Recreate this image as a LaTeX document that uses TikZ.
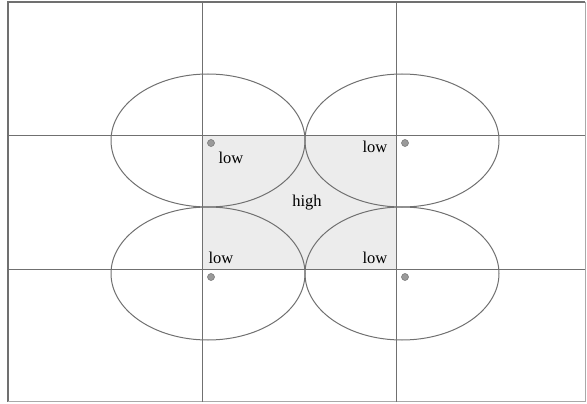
\documentclass[tikz,border=0pt]{standalone}
\usepackage{fontspec}
\setmainfont{Liberation Serif}
\usepackage{tikz}
\usetikzlibrary{positioning}
\definecolor{gridgray}{HTML}{707070}
\definecolor{boxfill}{HTML}{ECECEC}
\definecolor{dotgray}{HTML}{9A9A9A}

\begin{document}
\begin{tikzpicture}[
  x=1pt, y=-1pt,
  lbl/.style={inner sep=0pt,font=\fontsize{16.5}{18}\selectfont},
  spot/.style={circle,draw=gridgray,fill=dotgray,inner sep=0pt,minimum size=7pt,line width=0.5pt},
  gline/.style={draw=gridgray,line width=1pt}
]
  \useasboundingbox (0,0) rectangle (587,404);

  % shaded square
  \fill[boxfill] (202,135) rectangle (396,269);

  % frame
  \draw[gridgray,line width=1.2pt] (585,2) -- (8,2) -- (8,402);
  \draw[gridgray!60,line width=1pt] (8,401.5) -- (585.5,401.5) -- (585.5,2);

  % grid
  \coordinate (v1t) at (202,2);  \coordinate (v1b) at (202,402);
  \coordinate (v2t) at (396,2);  \coordinate (v2b) at (396,402);
  \coordinate (h1l) at (8,135);  \coordinate (h1r) at (585,135);
  \coordinate (h2l) at (8,269);  \coordinate (h2r) at (585,269);
  \draw[gline] (v1t) -- (v1b);
  \draw[gline] (v2t) -- (v2b);
  \draw[gline] (h1l) -- (h1r);
  \draw[gline] (h2l) -- (h2r);

  % ellipses
  \draw[gline] (208,140.5) ellipse (97 and 66.5);
  \draw[gline] (402,140.5) ellipse (97 and 66.5);
  \draw[gline] (208,273.5) ellipse (97 and 66.5);
  \draw[gline] (402,273.5) ellipse (97 and 66.5);

  % sensors
  \node[spot] (s1) at (211,143) {};
  \node[spot] (s2) at (405,143) {};
  \node[spot] (s3) at (211,277) {};
  \node[spot] (s4) at (405,277) {};

  \node[lbl] (l1) at (231,158) {low};
  \node[lbl] (l2) at (375,147) {low};
  \node[lbl] (l3) at (221,258) {low};
  \node[lbl] (l4) at (375,258) {low};
  \node[lbl] (hi) at (307,203) {high};
\end{tikzpicture}
\end{document}
